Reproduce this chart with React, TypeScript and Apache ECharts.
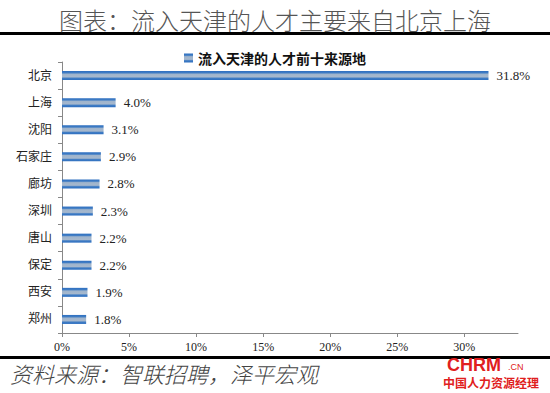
import React, { useEffect, useRef } from "react";
import * as echarts from "echarts";

const categories = ["北京", "上海", "沈阳", "石家庄", "廊坊", "深圳", "唐山", "保定", "西安", "郑州"];
const values = [31.8, 4.0, 3.1, 2.9, 2.8, 2.3, 2.2, 2.2, 1.9, 1.8];
const seriesName = "流入天津的人才前十来源地";
const title = "图表：流入天津的人才主要来自北京上海";
const source = "资料来源：智联招聘，泽平宏观";

const serif = "'Liberation Serif', 'Noto Sans CJK SC', serif";

export default function App() {
  const ref = useRef<HTMLDivElement>(null);
  useEffect(() => {
    const chart = echarts.init(ref.current!, null, { renderer: "svg" });
    const barColor = new echarts.graphic.LinearGradient(0, 0, 0, 1, [
      { offset: 0, color: "#2e6fc0" },
      { offset: 0.2, color: "#3f7cc4" },
      { offset: 0.35, color: "#9fb4cc" },
      { offset: 0.65, color: "#a6b8cd" },
      { offset: 0.8, color: "#3f7cc4" },
      { offset: 1, color: "#2e6fc0" },
    ]);
    chart.setOption({
      animation: false,
      backgroundColor: "#ffffff",
      title: {
        text: title,
        left: "center",
        top: 2,
        textStyle: { fontFamily: "'Noto Sans CJK SC', sans-serif", fontWeight: 300, fontSize: 24, color: "#555555" },
      },
      legend: {
        data: [seriesName],
        top: 46,
        left: "center",
        itemWidth: 9,
        itemHeight: 9,
        icon: "rect",
        itemGap: 4,
        textStyle: { fontFamily: "'Noto Sans CJK SC', sans-serif", fontWeight: "bold", fontSize: 14, color: "#111" },
      },
      grid: { left: 62, top: 62, right: 32, bottom: 60, containLabel: false },
      xAxis: {
        type: "value",
        min: 0,
        max: 34,
        interval: 5,
        axisLine: { show: true, lineStyle: { color: "#888" } },
        axisTick: { show: true, length: 4, lineStyle: { color: "#888" } },
        splitLine: { show: false },
        axisLabel: {
          formatter: (v: number) => (v > 30 ? "" : v + "%"),
          fontFamily: serif,
          fontSize: 12,
          color: "#222",
          margin: 8,
          showMaxLabel: false,
        },
      },
      yAxis: {
        type: "category",
        data: categories,
        inverse: true,
        axisLine: { show: true, lineStyle: { color: "#888" } },
        axisTick: { show: true, length: 4, lineStyle: { color: "#888" } },
        axisLabel: { fontFamily: serif, fontSize: 12, color: "#222", margin: 10 },
      },
      series: [
        {
          name: seriesName,
          type: "bar",
          data: values,
          barWidth: 9,
          itemStyle: { color: barColor },
          label: {
            show: true,
            position: "right",
            distance: 8,
            formatter: (p: any) => p.value.toFixed(1) + "%",
            fontFamily: serif,
            fontSize: 13,
            color: "#222",
          },
        },
      ],
      graphic: [
        { type: "rect", shape: { x: 0, y: 32, width: 550, height: 3 }, style: { fill: "#000" } },
        { type: "rect", shape: { x: 0, y: 356, width: 550, height: 3 }, style: { fill: "#000" } },
        {
          type: "text",
          left: 10,
          top: 362,
          style: {
            text: source,
            fontFamily: "'Noto Sans CJK SC', sans-serif",
            fontStyle: "italic",
            fontWeight: 300,
            fontSize: 22,
            fill: "#444",
          },
        },
        {
          type: "text",
          left: 447,
          top: 356,
          style: { text: "CHRM", fontFamily: "'Liberation Sans', sans-serif", fontWeight: "bold", fontSize: 18, fill: "#e02020" },
        },
        {
          type: "text",
          left: 508,
          top: 362,
          style: { text: ".CN", fontFamily: "'Liberation Sans', sans-serif", fontSize: 9, fill: "#e02020" },
        },
        {
          type: "text",
          left: 443,
          top: 376,
          style: { text: "中国人力资源经理", fontFamily: "'Noto Sans CJK SC', sans-serif", fontWeight: "bold", fontSize: 12, fill: "#e02020" },
        },
      ],
    });
    return () => chart.dispose();
  }, []);
  return (
    <div
      ref={ref}
      style={{ position: "fixed", left: 0, top: 0, width: 550, height: 393, background: "#fff" }}
    />
  );
}
